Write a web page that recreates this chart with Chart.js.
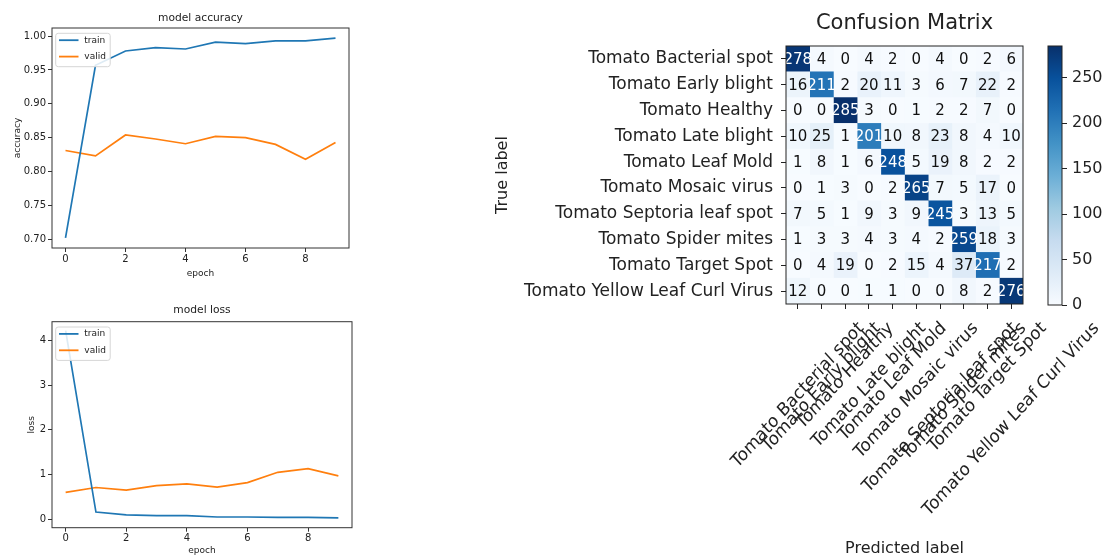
<!DOCTYPE html>
<html>
<head>
<meta charset="utf-8">
<title>Training history and confusion matrix</title>
<script src="https://cdn.jsdelivr.net/npm/chart.js@4.4.1/dist/chart.umd.min.js"></script>
<style>
  html, body { margin: 0; padding: 0; background: #fff; }
  body { position: relative; width: 1107px; height: 557px; overflow: hidden; }
  canvas { position: absolute; }
</style>
</head>
<body>
<canvas id="accChart" width="370" height="290" style="left:0;top:0"></canvas>
<canvas id="lossChart" width="370" height="267" style="left:0;top:290px"></canvas>
<canvas id="cmChart" width="627" height="557" style="left:480px;top:0"></canvas>
<canvas id="cbChart" width="67" height="557" style="left:1040px;top:0"></canvas>
<script>
const FONT = '"DejaVu Sans", "Liberation Sans", sans-serif';
const INK = '#222';
const TRAIN_COLOR = '#1f77b4';
const VALID_COLOR = '#ff7f0e';

// ---- training history ----
const epochs = [0, 1, 2, 3, 4, 5, 6, 7, 8, 9];
const accTrain = [0.702, 0.957, 0.978, 0.983, 0.981, 0.991, 0.989, 0.993, 0.993, 0.997];
const accValid = [0.831, 0.823, 0.854, 0.848, 0.841, 0.852, 0.850, 0.840, 0.818, 0.843];
const lossTrain = [4.22, 0.16, 0.095, 0.08, 0.08, 0.05, 0.05, 0.04, 0.04, 0.03];
const lossValid = [0.60, 0.71, 0.65, 0.75, 0.79, 0.72, 0.82, 1.05, 1.13, 0.97];
const epochTicks = [0, 2, 4, 6, 8];
const accTicks = [0.70, 0.75, 0.80, 0.85, 0.90, 0.95, 1.00];
const lossTicks = [0, 1, 2, 3, 4];

// ---- confusion matrix ----
const classes = [
  'Tomato Bacterial spot', 'Tomato Early blight', 'Tomato Healthy', 'Tomato Late blight',
  'Tomato Leaf Mold', 'Tomato Mosaic virus', 'Tomato Septoria leaf spot',
  'Tomato Spider mites', 'Tomato Target Spot', 'Tomato Yellow Leaf Curl Virus'
];
const rowBacterialSpot = [278, 4, 0, 4, 2, 0, 4, 0, 2, 6];
const rowEarlyBlight   = [16, 211, 2, 20, 11, 3, 6, 7, 22, 2];
const rowHealthy       = [0, 0, 285, 3, 0, 1, 2, 2, 7, 0];
const rowLateBlight    = [10, 25, 1, 201, 10, 8, 23, 8, 4, 10];
const rowLeafMold      = [1, 8, 1, 6, 248, 5, 19, 8, 2, 2];
const rowMosaicVirus   = [0, 1, 3, 0, 2, 265, 7, 5, 17, 0];
const rowSeptoria      = [7, 5, 1, 9, 3, 9, 245, 3, 13, 5];
const rowSpiderMites   = [1, 3, 3, 4, 3, 4, 2, 259, 18, 3];
const rowTargetSpot    = [0, 4, 19, 0, 2, 15, 4, 37, 217, 2];
const rowYellowCurl    = [12, 0, 0, 1, 1, 0, 0, 8, 2, 276];
const confusion = [rowBacterialSpot, rowEarlyBlight, rowHealthy, rowLateBlight, rowLeafMold,
  rowMosaicVirus, rowSeptoria, rowSpiderMites, rowTargetSpot, rowYellowCurl];
const colorbarTicks = [0, 50, 100, 150, 200, 250];

const vmax = Math.max(...confusion.flat());

// matplotlib "Blues" colormap anchors
const BLUES = ['#f7fbff', '#deebf7', '#c6dbef', '#9ecae1', '#6baed6', '#4292c6', '#2171b5', '#08519c', '#08306b'];
function hexRgb(h) { return [1, 3, 5].map(i => parseInt(h.slice(i, i + 2), 16)); }
function blues(t) {
  t = Math.max(0, Math.min(1, t));
  const p = t * (BLUES.length - 1);
  const i = Math.min(Math.floor(p), BLUES.length - 2);
  const f = p - i;
  const a = hexRgb(BLUES[i]), b = hexRgb(BLUES[i + 1]);
  const c = a.map((v, k) => Math.round(v + (b[k] - v) * f));
  return `rgb(${c[0]},${c[1]},${c[2]})`;
}

// Frame, centred title and in-axes legend for each panel
const panelDecor = {
  id: 'panelDecor',
  afterDraw(chart, _args, o) {
    const { ctx, chartArea: a } = chart;
    ctx.save();
    if (o.frame) {
      ctx.strokeStyle = o.frame;
      ctx.lineWidth = 1;
      ctx.strokeRect(a.left, a.top, a.right - a.left, a.bottom - a.top);
    }
    if (o.title) {
      ctx.font = `${o.titleSize}px ${FONT}`;
      ctx.fillStyle = INK;
      ctx.textAlign = 'center';
      ctx.textBaseline = 'middle';
      ctx.fillText(o.title, (a.left + a.right) / 2, o.titleY);
    }
    if (o.legend) {
      const bx = a.left + 3.7, by = a.top + 5.3, bw = 54.5, bh = 33.4;
      ctx.fillStyle = 'rgba(255,255,255,0.85)';
      ctx.strokeStyle = '#d6d6d6';
      ctx.lineWidth = 1;
      ctx.beginPath();
      ctx.roundRect(bx, by, bw, bh, 2.5);
      ctx.fill();
      ctx.stroke();
      ctx.font = `9px ${FONT}`;
      ctx.textAlign = 'left';
      ctx.textBaseline = 'middle';
      chart.data.datasets.forEach((ds, i) => {
        const ly = by + 6.9 + i * 16.4;
        ctx.strokeStyle = ds.borderColor;
        ctx.lineWidth = 1.8;
        ctx.beginPath();
        ctx.moveTo(bx + 3.3, ly);
        ctx.lineTo(bx + 22.8, ly);
        ctx.stroke();
        ctx.fillStyle = INK;
        ctx.fillText(ds.label, bx + 28.6, ly);
      });
    }
    ctx.restore();
  }
};

function historyChart(id, train, valid, yMin, yMax, yTicks, yDigits, yTitle, L) {
  const pts = arr => epochs.map((e, i) => ({ x: e, y: arr[i] }));
  const axisGrid = { drawOnChartArea: false, drawTicks: true, tickLength: 4, color: '#333' };
  return new Chart(document.getElementById(id), {
    type: 'line',
    data: {
      datasets: [
        { label: 'train', data: pts(train), borderColor: TRAIN_COLOR, borderWidth: 1.7, pointRadius: 0, tension: 0, fill: false },
        { label: 'valid', data: pts(valid), borderColor: VALID_COLOR, borderWidth: 1.7, pointRadius: 0, tension: 0, fill: false }
      ]
    },
    options: {
      responsive: false,
      animation: false,
      layout: { padding: { left: 0, right: L.padRight, top: L.padTop, bottom: 0 } },
      plugins: {
        legend: { display: false },
        tooltip: { enabled: false },
        panelDecor: { frame: '#333', title: L.title, titleSize: 10.7, titleY: L.titleY, legend: true }
      },
      scales: {
        x: {
          type: 'linear', min: -0.45, max: 9.45,
          afterBuildTicks: s => { s.ticks = epochTicks.map(v => ({ value: v })); },
          afterFit: s => { s.height = L.xHeight; },
          grid: axisGrid,
          border: { display: false },
          ticks: { autoSkip: false, maxRotation: 0, padding: 1, color: INK, font: { family: FONT, size: 10 }, callback: v => String(v) },
          title: { display: true, text: 'epoch', color: INK, font: { family: FONT, size: 9 }, padding: { top: 0, bottom: L.xTitlePad } }
        },
        y: {
          type: 'linear', min: yMin, max: yMax,
          afterBuildTicks: s => { s.ticks = yTicks.map(v => ({ value: v })); },
          afterFit: s => { s.width = 52; },
          grid: axisGrid,
          border: { display: false },
          ticks: { autoSkip: false, padding: 2, color: INK, font: { family: FONT, size: 10 }, callback: v => Number(v).toFixed(yDigits) },
          title: { display: true, text: yTitle, color: INK, font: { family: FONT, size: 9 }, padding: { top: L.yTitlePad, bottom: 0 } }
        }
      }
    },
    plugins: [panelDecor]
  });
}

historyChart('accChart', accTrain, accValid, 0.687, 1.012, accTicks, 2, 'accuracy',
  { padTop: 28, padRight: 21, xHeight: 42, xTitlePad: 10.6, yTitlePad: 12.6, title: 'model accuracy', titleY: 18 });
historyChart('lossChart', lossTrain, lossValid, -0.19, 4.42, lossTicks, 0, 'loss',
  { padTop: 31.7, padRight: 18, xHeight: 29.3, xTitlePad: 0.9, yTitlePad: 26.3, title: 'model loss', titleY: 20.7 });

// Cell counts and rotated class names under the matrix
const matrixText = {
  id: 'matrixText',
  afterDatasetsDraw(chart) {
    const { ctx } = chart;
    ctx.save();
    ctx.font = `15px ${FONT}`;
    ctx.textAlign = 'center';
    ctx.textBaseline = 'middle';
    chart.data.datasets.forEach((ds, j) => {
      chart.getDatasetMeta(j).data.forEach((el, i) => {
        const v = confusion[i][j];
        const c = el.getCenterPoint();
        ctx.fillStyle = v > vmax / 2 ? '#ffffff' : '#111';
        ctx.fillText(String(v), c.x, c.y + 1);
      });
    });
    ctx.restore();
  },
  afterDraw(chart) {
    const { ctx, chartArea: a } = chart;
    const xs = chart.scales.x;
    const size = 16.5;
    const stretch = 1.1;
    ctx.save();
    ctx.font = `${size}px ${FONT}`;
    ctx.fillStyle = INK;
    ctx.textAlign = 'center';
    ctx.textBaseline = 'middle';
    const s45 = Math.SQRT1_2;
    classes.forEach((name, j) => {
      const x = xs.getPixelForValue(j + 0.5);
      const w = ctx.measureText(name).width;
      const h = size * 1.17;
      const boxH = (w + h) * s45 * stretch;
      const cy = a.bottom + 14 + boxH / 2;
      ctx.save();
      ctx.translate(x, cy);
      ctx.scale(1, stretch);
      ctx.rotate(-Math.PI / 4);
      ctx.fillText(name, 0, 0);
      ctx.restore();
    });
    ctx.restore();
  }
};

new Chart(document.getElementById('cmChart'), {
  type: 'bar',
  data: {
    labels: classes,
    datasets: classes.map((_, j) => ({
      label: classes[j],
      data: classes.map(() => 1),
      backgroundColor: confusion.map(row => blues(row[j] / vmax)),
      borderWidth: 0,
      barPercentage: 1,
      categoryPercentage: 1
    }))
  },
  options: {
    indexAxis: 'y',
    responsive: false,
    animation: false,
    layout: { padding: { left: 0, right: 84, top: 46, bottom: 0 } },
    plugins: {
      legend: { display: false },
      tooltip: { enabled: false },
      panelDecor: { frame: '#222', title: 'Confusion Matrix', titleSize: 21, titleY: 24 }
    },
    scales: {
      x: {
        type: 'linear', min: 0, max: 10, stacked: true,
        afterBuildTicks: s => { s.ticks = classes.map((_, j) => ({ value: j + 0.5 })); },
        afterFit: s => { s.height = 253; },
        grid: { drawOnChartArea: false, drawTicks: true, tickLength: 5, color: '#222' },
        border: { display: false },
        ticks: { display: false },
        title: { display: true, text: 'Predicted label', color: INK, font: { family: FONT, size: 16, lineHeight: 1 }, padding: { top: 0, bottom: 0 } }
      },
      y: {
        type: 'category', stacked: true,
        afterFit: s => { s.width = 306; },
        grid: { drawOnChartArea: false, drawTicks: true, tickLength: 5, color: '#222', offset: false },
        border: { display: false },
        ticks: { autoSkip: false, padding: 8, color: INK, font: { family: FONT, size: 17 } },
        title: { display: true, text: 'True label', color: INK, font: { family: FONT, size: 16, lineHeight: 1.2 }, padding: { top: 13.4, bottom: 0 } }
      }
    }
  },
  plugins: [panelDecor, matrixText]
});

// Colour bar: one bar spanning 0..vmax filled with the Blues gradient
new Chart(document.getElementById('cbChart'), {
  type: 'bar',
  data: {
    labels: [''],
    datasets: [{
      data: [vmax],
      borderWidth: 0,
      barPercentage: 1,
      categoryPercentage: 1,
      backgroundColor: ctx => {
        const { chart } = ctx;
        const a = chart.chartArea;
        if (!a) return BLUES[4];
        const g = chart.ctx.createLinearGradient(0, a.bottom, 0, a.top);
        BLUES.forEach((c, i) => g.addColorStop(i / (BLUES.length - 1), c));
        return g;
      }
    }]
  },
  options: {
    responsive: false,
    animation: false,
    layout: { padding: { left: 8, right: 0, top: 46, bottom: 252 } },
    plugins: { legend: { display: false }, tooltip: { enabled: false }, panelDecor: { frame: '#222' } },
    scales: {
      x: { display: false },
      y: {
        position: 'right', min: 0, max: vmax,
        afterBuildTicks: s => { s.ticks = colorbarTicks.map(v => ({ value: v })); },
        afterFit: s => { s.width = 45; },
        grid: { drawOnChartArea: false, drawTicks: true, tickLength: 5, color: '#222' },
        border: { display: false },
        ticks: { autoSkip: false, padding: 5, color: INK, font: { family: FONT, size: 16 } }
      }
    }
  },
  plugins: [panelDecor]
});
</script>
</body>
</html>
